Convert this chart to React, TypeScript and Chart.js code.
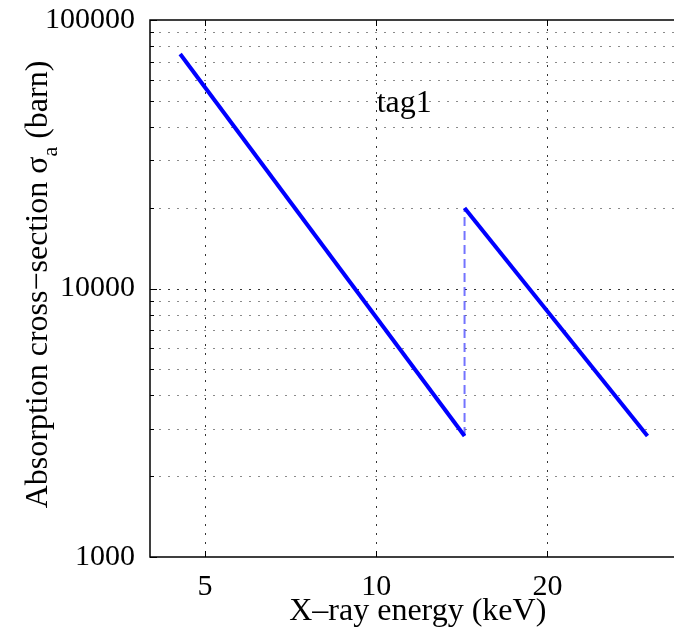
import React, { useEffect, useRef } from "react";
import { Chart, registerables } from "chart.js";

Chart.register(...registerables);

// ---- data ----
const lowBranchEnergy = [4.52, 14.3];
const lowBranchSigma = [74700, 2824];
const highBranchEnergy = [14.3, 30];
const highBranchSigma = [19950, 2824];
const edgeEnergy = [14.3, 14.3];
const edgeSigma = [2824, 19950];

// visible x range (axes continue past the right edge of the picture up to ~35 keV)
const xRange = [4, 33.4];
const xAxesFullMax = 35;
const yRange = [1000, 100000];
const xTickValues = [5, 10, 20];
const yTickValues = [
  1000, 2000, 3000, 4000, 5000, 6000, 7000, 8000, 9000,
  10000, 20000, 30000, 40000, 50000, 60000, 70000, 80000, 90000, 100000,
];
const yLabelValues = [1000, 10000, 100000];

const xAxisTitle = "X\u2013ray energy (keV)";
const yTitleMain = "Absorption cross\u2212section \u03c3";
const yTitleSub = "a";
const yTitleTail = " (barn)";
const tagText = "tag1";
const tagPos = { x: 11.2, y: 45400 };

const FONT = "'Liberation Serif', 'Times New Roman', serif";

const toXY = (xs: number[], ys: number[]) => xs.map((x, i) => ({ x, y: ys[i] }));

const decorPlugin = {
  id: "decor",
  beforeDatasetsDraw(chart: any) {
    const { ctx, chartArea: a, scales } = chart;
    const xs = scales.x;
    const ys = scales.y;
    ctx.save();
    ctx.lineWidth = 1;
    yTickValues.forEach((v) => {
      if (v === yRange[0] || v === yRange[1]) return;
      const py = Math.round(ys.getPixelForValue(v)) + 0.5;
      const major = yLabelValues.includes(v);
      ctx.strokeStyle = major ? "#333" : "#8a8a8a";
      ctx.setLineDash([2, 7]);
      ctx.beginPath();
      ctx.moveTo(a.left, py);
      ctx.lineTo(a.right, py);
      ctx.stroke();
    });
    xTickValues.forEach((v) => {
      const px = Math.round(xs.getPixelForValue(v)) + 0.5;
      ctx.strokeStyle = "#333";
      ctx.setLineDash([2, 7]);
      ctx.beginPath();
      ctx.moveTo(px, a.top);
      ctx.lineTo(px, a.bottom);
      ctx.stroke();
    });
    ctx.restore();
  },
  afterDatasetsDraw(chart: any) {
    const { ctx, chartArea: a, scales } = chart;
    const xs = scales.x;
    const ys = scales.y;
    ctx.save();
    ctx.setLineDash([]);
    ctx.strokeStyle = "#000";
    ctx.lineWidth = 1.5;
    // frame: left, top, bottom (right side lies outside the picture)
    ctx.beginPath();
    ctx.moveTo(a.right + 2, a.top);
    ctx.lineTo(a.left, a.top);
    ctx.lineTo(a.left, a.bottom);
    ctx.lineTo(a.right + 2, a.bottom);
    ctx.stroke();
    // inward tick marks
    ctx.lineWidth = 1;
    xTickValues.forEach((v) => {
      const px = Math.round(xs.getPixelForValue(v)) + 0.5;
      ctx.beginPath();
      ctx.moveTo(px, a.bottom);
      ctx.lineTo(px, a.bottom - 6);
      ctx.moveTo(px, a.top);
      ctx.lineTo(px, a.top + 6);
      ctx.stroke();
    });
    yTickValues.forEach((v) => {
      const py = Math.round(ys.getPixelForValue(v)) + 0.5;
      const len = yLabelValues.includes(v) ? 7 : 4;
      ctx.beginPath();
      ctx.moveTo(a.left, py);
      ctx.lineTo(a.left + len, py);
      ctx.stroke();
    });
    ctx.fillStyle = "#000";
    // annotation
    ctx.font = `32px ${FONT}`;
    ctx.textAlign = "center";
    ctx.textBaseline = "alphabetic";
    ctx.fillText(tagText, xs.getPixelForValue(tagPos.x), ys.getPixelForValue(tagPos.y));
    // x axis title, centred on the full axes width
    const fullRight = xs.getPixelForValue(xAxesFullMax);
    ctx.font = `32px ${FONT}`;
    ctx.textBaseline = "middle";
    ctx.fillText(xAxisTitle, (a.left + fullRight) / 2, 612);
    // y axis title with subscript
    ctx.textBaseline = "alphabetic";
    const mainFont = `32px ${FONT}`;
    const subFont = `22px ${FONT}`;
    ctx.font = mainFont;
    const wMain = ctx.measureText(yTitleMain).width;
    const wTail = ctx.measureText(yTitleTail).width;
    ctx.font = subFont;
    const wSub = ctx.measureText(yTitleSub).width;
    const total = wMain + wSub + wTail;
    const cy = (a.top + a.bottom) / 2 - 4;
    ctx.translate(47, cy);
    ctx.rotate(-Math.PI / 2);
    ctx.textAlign = "left";
    let x0 = -total / 2;
    ctx.font = mainFont;
    ctx.fillText(yTitleMain, x0, 0);
    x0 += wMain;
    ctx.font = subFont;
    ctx.fillText(yTitleSub, x0, 10);
    x0 += wSub;
    ctx.font = mainFont;
    ctx.fillText(yTitleTail, x0, 0);
    ctx.restore();
  },
};

export default function App() {
  const ref = useRef<HTMLCanvasElement | null>(null);

  useEffect(() => {
    if (!ref.current) return;
    const chart = new Chart(ref.current, {
      type: "line",
      data: {
        datasets: [
          {
            data: toXY(lowBranchEnergy, lowBranchSigma),
            borderColor: "#0000ff",
            borderWidth: 4,
            pointRadius: 0,
            fill: false,
          },
          {
            data: toXY(highBranchEnergy, highBranchSigma),
            borderColor: "#0000ff",
            borderWidth: 4,
            pointRadius: 0,
            fill: false,
          },
          {
            data: toXY(edgeEnergy, edgeSigma),
            borderColor: "rgba(0,0,255,0.55)",
            borderWidth: 2,
            borderDash: [9, 5],
            pointRadius: 0,
            fill: false,
          },
        ],
      },
      options: {
        animation: false,
        responsive: false,
        devicePixelRatio: 1,
        layout: { padding: { top: 20, right: 0, left: 0, bottom: 0 } },
        plugins: { legend: { display: false }, tooltip: { enabled: false }, title: { display: false } },
        scales: {
          x: {
            type: "logarithmic",
            min: xRange[0],
            max: xRange[1],
            grid: { display: false },
            border: { display: false },
            afterBuildTicks: (s: any) => {
              s.ticks = xTickValues.map((v) => ({ value: v }));
            },
            afterFit: (s: any) => {
              s.height = 73;
              s.paddingLeft = 0;
              s.paddingRight = 0;
            },
            ticks: {
              autoSkip: false,
              maxRotation: 0,
              padding: 4,
              color: "#000",
              font: { family: FONT, size: 30 },
              callback: (v: any) => (xTickValues.includes(Number(v)) ? String(v) : ""),
            },
            title: { display: false },
          },
          y: {
            type: "logarithmic",
            min: yRange[0],
            max: yRange[1],
            grid: { display: false },
            border: { display: false },
            afterBuildTicks: (s: any) => {
              s.ticks = yTickValues.map((v) => ({ value: v }));
            },
            afterFit: (s: any) => {
              s.width = 150;
              s.paddingTop = 0;
              s.paddingBottom = 0;
            },
            ticks: {
              autoSkip: false,
              padding: 7,
              color: "#000",
              font: { family: FONT, size: 30 },
              callback: (v: any) => (yLabelValues.includes(Number(v)) ? String(v) : ""),
            },
          },
        },
      },
      plugins: [decorPlugin],
    });
    return () => chart.destroy();
  }, []);

  return (
    <div
      style={{
        position: "fixed",
        left: 0,
        top: 0,
        width: 674,
        height: 630,
        overflow: "hidden",
        background: "#fff",
      }}
    >
      <canvas ref={ref} width={674} height={630} style={{ display: "block", width: 674, height: 630 }} />
    </div>
  );
}
